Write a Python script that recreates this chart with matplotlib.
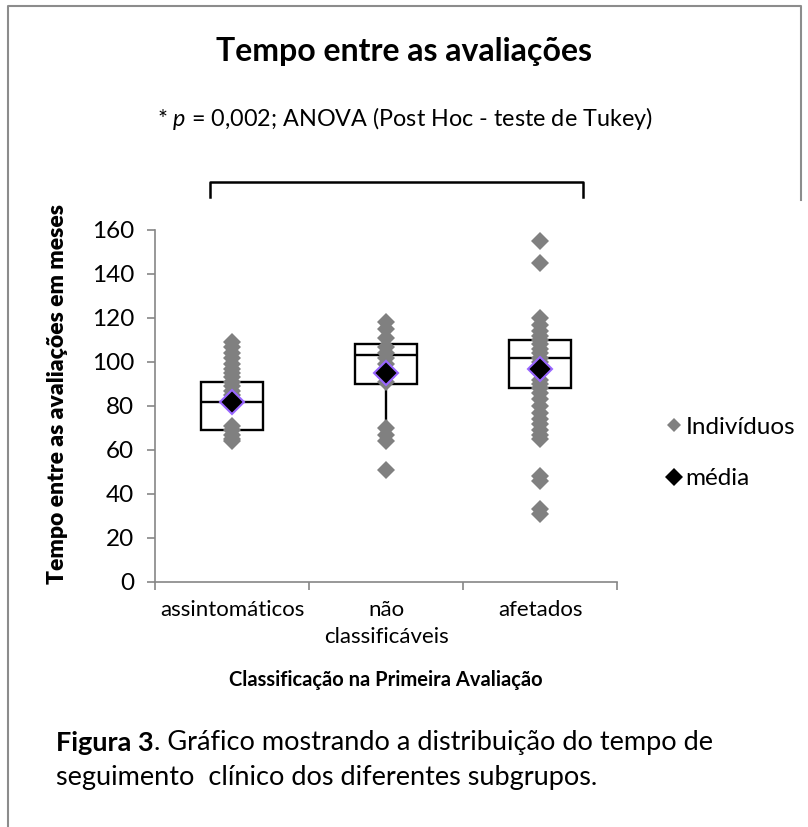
import matplotlib
matplotlib.use("Agg")
import matplotlib.pyplot as plt
from matplotlib.lines import Line2D

plt.rcParams['font.family'] = ['Lato', 'DejaVu Sans']
plt.rcParams['mathtext.fontset'] = 'custom'
plt.rcParams['mathtext.rm'] = 'Lato'
plt.rcParams['mathtext.it'] = 'Lato:italic'
plt.rcParams['mathtext.bf'] = 'Lato:bold'

# ---- data ----
categories = ["assintomáticos", "não\nclassificáveis", "afetados"]
assintomaticos = [109, 107, 104, 102, 99, 97, 95, 93, 91, 89, 87, 85, 71, 69, 67, 65, 64]
nao_classificaveis = [118, 115, 111, 107, 104, 102, 99, 96, 93, 91, 70, 67, 64, 51]
afetados = [155, 145, 120, 117, 114, 112, 110, 108, 106, 104, 102, 100, 98, 95, 92,
            90, 88, 86, 83, 80, 77, 74, 72, 69, 67, 65, 48, 46, 33, 31]
medias = [82, 95, 97]
q1 = [69, 90, 88]
medianas = [82, 103, 102]
q3 = [91, 108, 110]
whis_lo = [64, 64, 65]
whis_hi = [109, 118, 120]
yticks = [0, 20, 40, 60, 80, 100, 120, 140, 160]

title = "Tempo entre as avaliações"
subtitle = "* $p$ = 0,002; ANOVA (Post Hoc - teste de Tukey)"
ylabel = "Tempo entre as avaliações em meses"
xlabel = "Classificação na Primeira Avaliação"
legend_labels = ["Indivíduos", "média"]
caption_bold = "Figura 3"
caption_rest = ". Gráfico mostrando a distribuição do tempo de"
caption_line2 = "seguimento  clínico dos diferentes subgrupos."

W, H = 808, 827
fig = plt.figure(figsize=(W / 100, H / 100), dpi=100)
fig.patch.set_facecolor('white')

def fx(px):
    return px / W

def fy(py):
    return 1 - py / H

ax = fig.add_axes([fx(155), fy(582), fx(617) - fx(155), fy(230) - fy(582)])

groups = [assintomaticos, nao_classificaveis, afetados]
positions = [1, 2, 3]

stats = []
for i in range(3):
    stats.append(dict(med=medianas[i], q1=q1[i], q3=q3[i],
                      whislo=whis_lo[i], whishi=whis_hi[i], fliers=[]))
ax.bxp(stats, positions=positions, widths=0.40, showcaps=False, showfliers=False,
       patch_artist=True,
       boxprops=dict(facecolor='white', edgecolor='black', linewidth=1.7),
       medianprops=dict(color='black', linewidth=1.7),
       whiskerprops=dict(color='black', linewidth=1.7), zorder=1)

for pos, vals in zip(positions, groups):
    ax.plot([pos] * len(vals), vals, ls='none', marker='D', markersize=9.5,
            color='#808080', markeredgewidth=0, zorder=3)

ax.plot(positions, medias, ls='none', marker='D', markersize=12.5,
        markerfacecolor='black', markeredgecolor='#9966FF', markeredgewidth=1.5, zorder=4)

ax.set_xlim(0.5, 3.5)
ax.set_ylim(0, 160)
ax.set_yticks(yticks)
ax.set_yticklabels([str(v) for v in yticks])
ax.set_xticks([0.5, 1.5, 2.5, 3.5])
ax.set_xticklabels([])
ax.set_xticks(positions, minor=True)
ax.set_xticklabels(categories, minor=True, fontsize=16, linespacing=1.45, va='top')
ax.tick_params(axis='x', which='minor', length=0, pad=13)
ax.tick_params(axis='x', which='major', length=6, width=1.2, color='#868686', direction='out')
ax.tick_params(axis='y', length=6, width=1.2, color='#868686', labelsize=17.5, pad=9)
for s in ['top', 'right']:
    ax.spines[s].set_visible(False)
for s in ['left', 'bottom']:
    ax.spines[s].set_color('#868686')
    ax.spines[s].set_linewidth(1.2)

ax.set_ylabel(ylabel, fontsize=16.5, fontweight='heavy')
ax.yaxis.set_label_coords(-(155 - 68) / 462, 0.535)

fig.text(fx(386), fy(680), xlabel, fontsize=14.5, fontweight='bold', ha='center', va='center')

fig.text(fx(404), fy(51), title, fontsize=23, fontweight='bold', ha='center', va='center')
fig.text(fx(405), fy(118), subtitle, fontsize=16.8, ha='center', va='center')

# bracket
fig.add_artist(Line2D([fx(210), fx(210), fx(583), fx(583)],
                      [fy(197), fy(182), fy(182), fy(197)],
                      transform=fig.transFigure, color='black', lw=1.8))

# legend
handles = [Line2D([], [], ls='none', marker='D', markersize=7, color='#808080', markeredgewidth=0),
           Line2D([], [], ls='none', marker='D', markersize=9, color='black', markeredgewidth=0)]
fig.legend(handles, legend_labels, loc='center left', bbox_to_anchor=(fx(655), fy(453)),
           frameon=False, fontsize=17.5, handlelength=0.6, handletextpad=0.15,
           labelspacing=1.25, borderpad=0)

# caption
cap1 = fig.text(fx(56), fy(743), caption_bold, fontsize=19.5, fontweight='bold',
                ha='left', va='center')
ax.annotate(caption_rest, xy=(1, 0), xycoords=cap1,
            fontsize=19.5, ha='left', va='bottom', annotation_clip=False)
fig.text(fx(56), fy(777), caption_line2, fontsize=19.5, ha='left', va='center')

# frame lines
fig.add_artist(Line2D([fx(8), fx(8), fx(801), fx(801)], [fy(827), fy(6), fy(6), fy(200)],
                      transform=fig.transFigure, color='#8c8c8c', lw=1.5))

fig.savefig("out.png", dpi=100, facecolor='white')
